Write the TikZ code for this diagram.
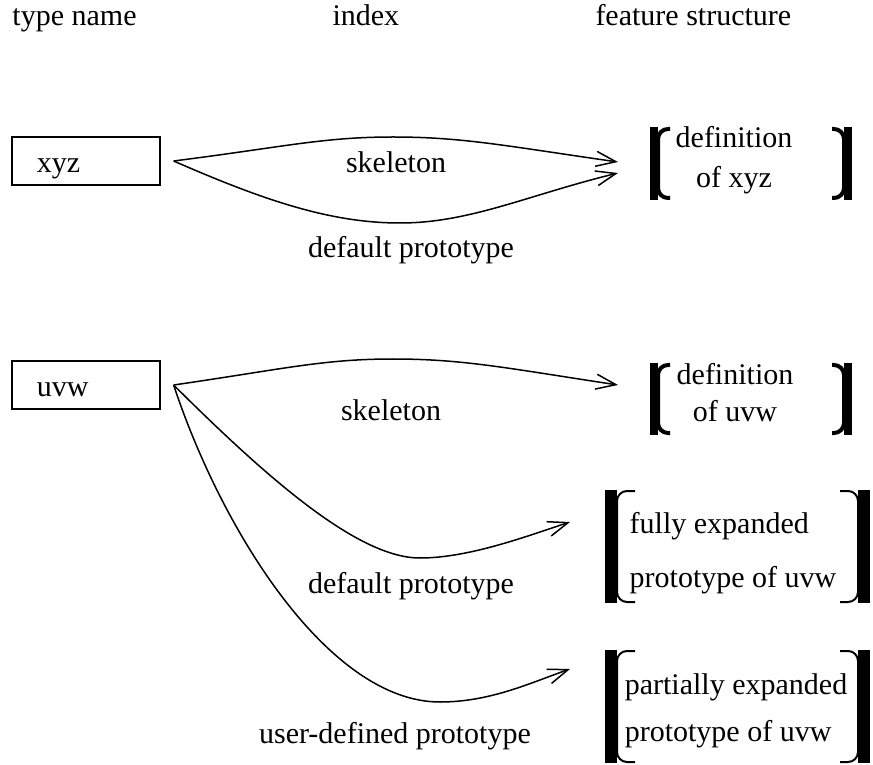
\documentclass[tikz,border=0pt]{standalone}
\usepackage{fontspec}
\setmainfont{Liberation Serif}
\usetikzlibrary{arrows.meta}

\begin{document}
\begin{tikzpicture}
  [x=0.4pt,y=-0.4pt,
   every node/.style={font=\fontsize{12}{15}\selectfont,inner sep=0pt},
   tname/.style={draw,line width=0.5pt,minimum width=59.2pt,minimum height=19.2pt,
     text width=39.2pt,inner xsep=10pt,align=left,text height=9.6pt,text depth=0pt},
   link/.style={-{Straight Barb[length=8pt,width=6pt]},line width=0.6pt},
   serif/.style={rounded corners=4pt}]
  \useasboundingbox (0,0) rectangle (873,765);
  % column heads
  \node[anchor=base west] (hname) at (12,26) {type name};
  \node[anchor=base west] (hindex) at (332,26) {index};
  \node[anchor=base west] (hfs) at (595,26) {feature structure};

  % type names
  \node[tname] (xyz) at (86,161) {xyz};
  \node[tname] (uvw) at (86,385) {uvw};

  % feature structures
  \node[align=center,font=\fontsize{12}{16}\selectfont] (fsxyz) at (734,160) {definition\\of xyz};
  \node[align=center,font=\fontsize{12}{14.8}\selectfont] (fsuvw) at (735,393) {definition\\of uvw};
  \node[align=left,font=\fontsize{12}{21.6}\selectfont] (fsfull) at (733,553) {fully expanded\\prototype of uvw};
  \node[align=left,font=\fontsize{12}{18.8}\selectfont] (fspart) at (736,711) {partially expanded\\prototype of uvw};
  \foreach \l/\r/\t/\b/\bw/\sl/\lw/\h in {650/852/127/200/8/20/1.6pt/2, 650/852/363/435/8/20/1.6pt/2,
    605/870/490/603/12/30/0.8pt/1, 605/870/650/763/12/30/0.8pt/1}
  {
    \fill (\l,\t) rectangle (\l+\bw,\b);
    \fill (\r-\bw,\t) rectangle (\r,\b);
    \draw[serif,line width=\lw] (\l+\sl,\t+\h) -- (\l+\bw,\t+\h) -- (\l+\bw,\b-\h) -- (\l+\sl,\b-\h);
    \draw[serif,line width=\lw] (\r-\sl,\t+\h) -- (\r-\bw,\t+\h) -- (\r-\bw,\b-\h) -- (\r-\sl,\b-\h);
  }

  % arrow tips in front of the brackets
  \coordinate (tipxyzskel) at (618,162);
  \coordinate (tipxyzdef) at (618,173);
  \coordinate (tipuvwskel) at (618,385);
  \coordinate (tipuvwdef) at (570,522);
  \coordinate (tipuvwuser) at (570,669);

  % index links
  \draw[link] ([xshift=5.2pt]xyz.east) .. controls (284,147) and (323,137) .. (393,137)
    .. controls (463,137) and (506,146) .. (tipxyzskel);
  \draw[link] ([xshift=5.2pt]xyz.east) .. controls (263,200) and (330,223) .. (400,223)
    .. controls (470,223) and (528,195) .. (tipxyzdef);
  \draw[link] ([xshift=5.2pt]uvw.east) .. controls (284,369) and (323,359) .. (393,359)
    .. controls (463,359) and (506,368) .. (tipuvwskel);
  \draw[link] ([xshift=5.2pt]uvw.east) .. controls (273,484) and (360,558) .. (420,558)
    .. controls (470,558) and (530,535) .. (tipuvwdef);
  \draw[link] ([xshift=5.2pt]uvw.east) .. controls (223,534) and (330,702) .. (440,702)
    .. controls (490,702) and (530,683) .. (tipuvwuser);

  \node[anchor=base] (skelxyz) at (396,173) {skeleton};
  \node[anchor=base] (defxyz) at (411,258) {default prototype};
  \node[anchor=base] (skeluvw) at (391,421) {skeleton};
  \node[anchor=base] (defuvw) at (411,593) {default prototype};
  \node[anchor=base] (useruvw) at (395,743) {user-defined prototype};
\end{tikzpicture}
\end{document}
